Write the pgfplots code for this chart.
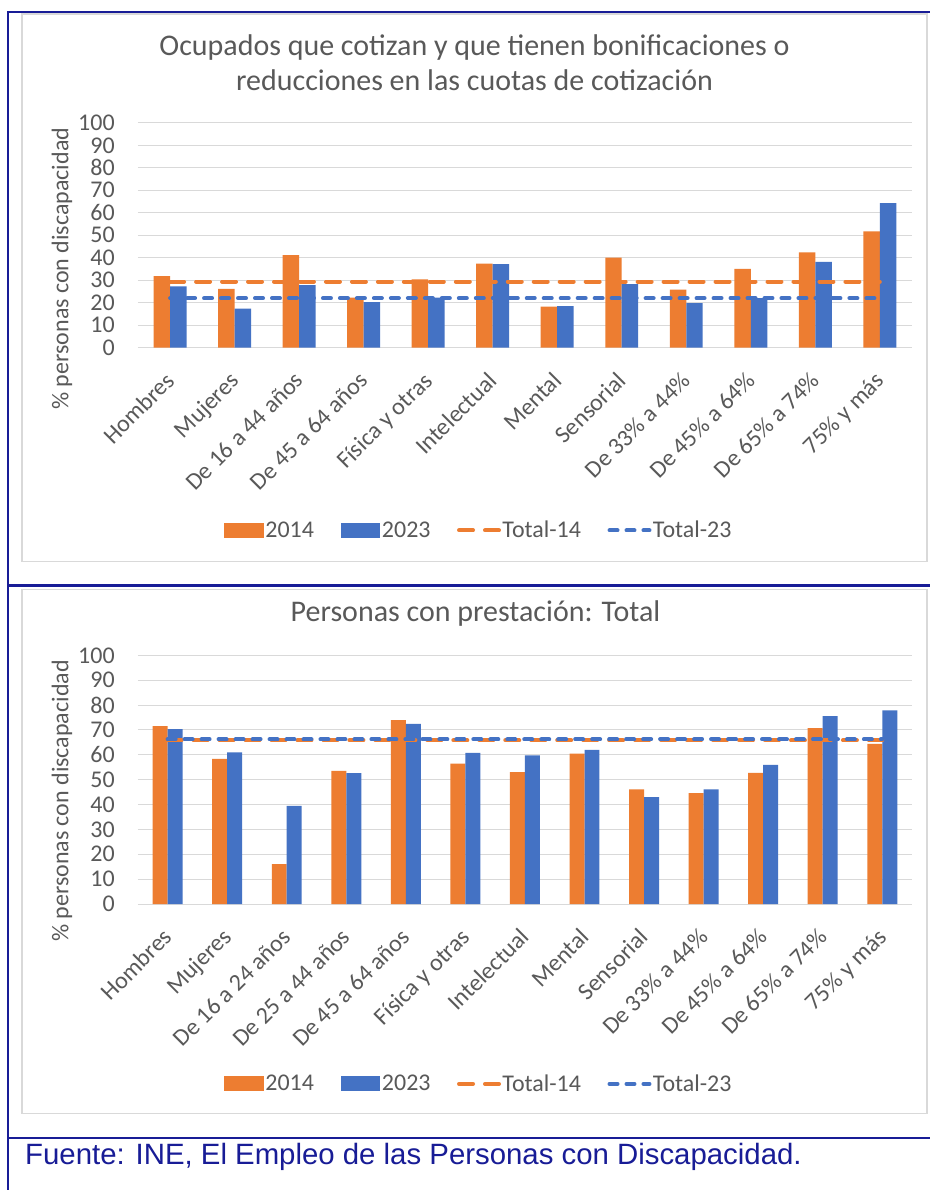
\documentclass[border=0pt]{standalone}
\usepackage{pgfplots}
\usepackage{pgfplotstable}
\pgfplotsset{compat=1.18}
\usepackage{fontspec}
\setmainfont{Carlito}
\newfontfamily\arialfont{Liberation Sans}

\definecolor{c14}{HTML}{ED7D31}
\definecolor{c23}{HTML}{4472C4}
\definecolor{txt}{HTML}{595959}
\definecolor{grd}{HTML}{D9D9D9}
\definecolor{frm}{RGB}{24,28,150}

\newcommand{\lbl}{\fontsize{24bp}{28bp}\selectfont}
\newcommand{\ttl}{\fontsize{30bp}{35bp}\selectfont}

% 2014 / 2023, first chart
\pgfplotstableread{
x a b
0 31.8 27.2
1 26.1 17.3
2 41.1 27.8
3 22.2 20.2
4 30.4 22.2
5 37.4 37.1
6 18.2 18.5
7 40.0 28.2
8 25.8 19.8
9 35.0 22.0
10 42.4 38.1
11 51.7 64.3
}\topdata

% 2014 / 2023, second chart
\pgfplotstableread{
x a b
0 71.5 70.3
1 58.4 61.0
2 16.1 39.5
3 53.5 52.6
4 73.9 72.4
5 56.5 60.8
6 53.0 59.8
7 60.5 62.0
8 46.1 43.0
9 44.6 46.1
10 52.7 56.0
11 70.7 75.5
12 64.4 77.9
}\botdata

\pgfplotsset{
  chart/.style={
    scale only axis,
    width=775bp,
    xmin=-0.5,
    ymin=0, ymax=100,
    ytick={0,10,...,100},
    xtick=data,
    ymajorgrids=true,
    grid style={grd, line width=1bp},
    axis x line*=bottom,
    axis y line*=left,
    axis line style={draw=none},
    major tick length=0pt,
    /pgf/number format/assume math mode=true,
    tick label style={font=\lbl, text=txt},
    yticklabel style={inner sep=0pt, xshift=-23bp},
    xticklabel style={xshift=-6bp, yshift=-20bp, rotate=45, anchor=north east, inner sep=2bp},
    ylabel={\% personas con discapacidad},
    ylabel style={font=\lbl, text=txt, anchor=center},
    legend columns=4,
    legend style={draw=none, fill=none, font=\lbl, text=txt, anchor=center,
      nodes={inner sep=1.5bp},
      /tikz/every even column/.append style={column sep=25bp}},
  },
  barleg/.style={legend image code/.code={\fill[##1] (0bp,-7.5bp) rectangle (40bp,7.5bp);}},
  lineleg/.style={legend image code/.code={\draw[##1] (0bp,0bp) -- (40bp,0bp);}},
  tot14/.style={c14, line width=4bp, line cap=round, dash pattern=on 14bp off 12bp, sharp plot, mark=none},
  tot23/.style={c23, line width=4bp, line cap=round, dash pattern=on 8bp off 9bp, sharp plot, mark=none},
}

\begin{document}
\begin{tikzpicture}
\begin{scope}[x=1bp,y=1bp]
\useasboundingbox (0,0) rectangle (931,1191);
\fill[white] (0,0) rectangle (931,1191);
\draw[grd, line width=1.2bp] (22,629) rectangle (928,1177);
\draw[grd, line width=1.2bp] (22,76) rectangle (928,601);
\end{scope}

\begin{axis}[chart,
  at={(138bp,843bp)}, anchor=south west,
  height=225bp, xmax=11.5,
  xticklabels={Hombres,Mujeres,De 16 a 44 años,De 45 a 64 años,Física y otras,Intelectual,Mental,Sensorial,De 33\% a 44\%,De 45\% a 64\%,De 65\% a 74\%,75\% y más},
  ylabel style={at={(axis description cs:-0.098,0.351)}},
  legend style={at={(axis description cs:0.44,-0.813)}},
]
\addplot[ybar, bar width=16.5bp, bar shift=-8.25bp, fill=c14, draw=none, barleg] table[x=x,y=a]{\topdata};
\addplot[ybar, bar width=16.5bp, bar shift=8.25bp, fill=c23, draw=none, barleg] table[x=x,y=b]{\topdata};
\addplot[tot14, lineleg] coordinates {(0,29.4)(11,29.4)};
\addplot[tot23, lineleg] coordinates {(0,22.0)(11,22.0)};
\legend{2014,2023,Total-14,Total-23}
\end{axis}

\begin{axis}[chart,
  at={(138bp,286bp)}, anchor=south west,
  height=249bp, xmax=12.5,
  xticklabels={Hombres,Mujeres,De 16 a 24 años,De 25 a 44 años,De 45 a 64 años,Física y otras,Intelectual,Mental,Sensorial,De 33\% a 44\%,De 45\% a 64\%,De 65\% a 74\%,75\% y más},
  ylabel style={at={(axis description cs:-0.098,0.414)}},
  legend style={at={(axis description cs:0.44,-0.723)}},
]
\addplot[ybar, bar width=15bp, bar shift=-7.5bp, fill=c14, draw=none, barleg] table[x=x,y=a]{\botdata};
\addplot[ybar, bar width=15bp, bar shift=7.5bp, fill=c23, draw=none, barleg] table[x=x,y=b]{\botdata};
\addplot[tot14, lineleg] coordinates {(0,65.8)(12,65.8)};
\addplot[tot23, lineleg] coordinates {(0,66.2)(12,66.2)};
\legend{2014,2023,Total-14,Total-23}
\end{axis}

\begin{scope}[x=1bp,y=1bp]
\node[text=txt, font=\ttl, align=center] at (475,1128.5)
  {Ocupados que cotizan y que tienen bonificaciones o\\reducciones en las cuotas de cotización};
\node[text=txt, font=\ttl] at (476,577) {Personas con prestación: Total};

\draw[frm, line width=2.5bp] (8,0) -- (8,1179) -- (931,1179);
\draw[frm, line width=2.5bp] (8,605) -- (931,605);
\draw[frm, line width=2.5bp] (8,52) -- (931,52);
\node[anchor=base west, inner sep=0pt, text=frm, font=\arialfont\fontsize{29.4bp}{34bp}\selectfont] at (25,25)
  {Fuente: INE, El Empleo de las Personas con Discapacidad.};
\end{scope}
\end{tikzpicture}
\end{document}
